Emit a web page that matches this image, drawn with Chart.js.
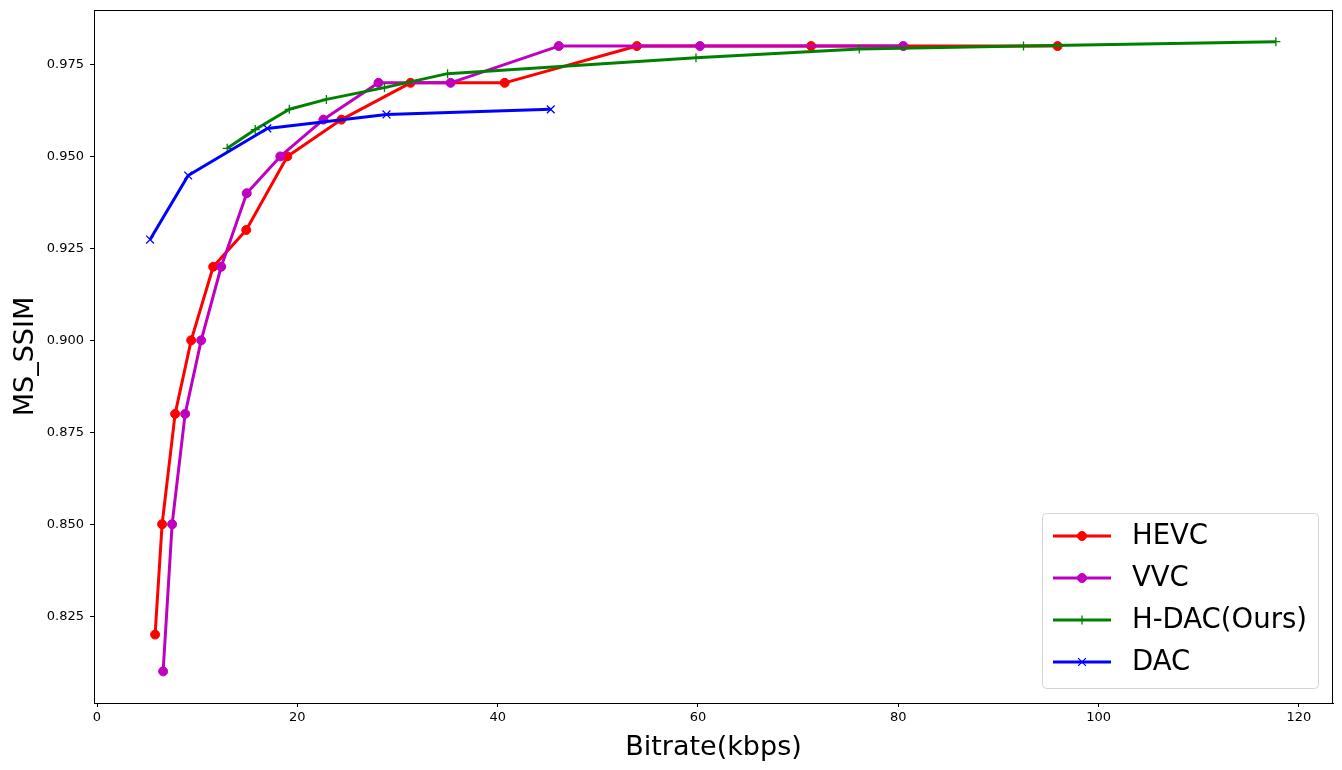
<!DOCTYPE html>
<html>
<head>
<meta charset="utf-8">
<script src="https://cdn.jsdelivr.net/npm/chart.js@4.4.0/dist/chart.umd.min.js"></script>
<style>
html,body{margin:0;padding:0;background:#fff;}
#wrap{width:1342px;height:770px;}
</style>
</head>
<body>
<div id="wrap"><canvas id="c" width="1342" height="770"></canvas></div>
<script>
// ---- data ----
const hevcX = [5.8, 6.5, 7.8, 9.4, 11.6, 14.9, 19.0, 24.4, 31.3, 40.7, 53.9, 71.3, 95.9];
const hevcY = [0.820, 0.850, 0.880, 0.900, 0.920, 0.930, 0.950, 0.960, 0.970, 0.970, 0.980, 0.980, 0.980];
const vvcX = [6.6, 7.5, 8.8, 10.4, 12.4, 14.95, 18.3, 22.6, 28.1, 35.3, 46.1, 60.2, 80.5];
const vvcY = [0.810, 0.850, 0.880, 0.900, 0.920, 0.940, 0.950, 0.960, 0.970, 0.970, 0.980, 0.980, 0.980];
const hdacX = [13.0, 15.8, 19.2, 22.9, 28.7, 35.0, 59.8, 76.1, 92.5, 117.7];
const hdacY = [0.9522, 0.9573, 0.9628, 0.9655, 0.9687, 0.9725, 0.9768, 0.9792, 0.9800, 0.9812];
const dacX = [5.3, 9.1, 17.0, 28.9, 45.3];
const dacY = [0.9274, 0.9448, 0.9576, 0.9614, 0.9628];
const seriesNames = ['HEVC', 'VVC', 'H-DAC(Ours)', 'DAC'];
const xTicks = [0, 20, 40, 60, 80, 100, 120];
const yTicks = [0.825, 0.850, 0.875, 0.900, 0.925, 0.950, 0.975];
const xTitle = 'Bitrate(kbps)';
const yTitle = 'MS_SSIM';

const FONT = "'DejaVu Sans', sans-serif";
const pts = (xs, ys) => xs.map((x, i) => ({x: x, y: ys[i]}));

const styles = [
  {color: '#ff0000', pointStyle: 'circle', radius: 4.5, bw: 1},
  {color: '#bf00bf', pointStyle: 'circle', radius: 4.5, bw: 1},
  {color: '#008000', pointStyle: 'cross', radius: 4.5, bw: 1.3},
  {color: '#0000ff', pointStyle: 'crossRot', radius: 5.5, bw: 1.3}
];
const dataArr = [pts(hevcX, hevcY), pts(vvcX, vvcY), pts(hdacX, hdacY), pts(dacX, dacY)];

const datasets = dataArr.map((d, i) => ({
  label: seriesNames[i],
  data: d,
  borderColor: styles[i].color,
  backgroundColor: styles[i].color,
  pointBackgroundColor: styles[i].color,
  pointBorderColor: styles[i].color,
  pointStyle: styles[i].pointStyle,
  pointRadius: styles[i].radius,
  pointBorderWidth: styles[i].bw,
  pointHoverRadius: styles[i].radius,
  borderWidth: 3,
  tension: 0,
  fill: false,
  showLine: true,
  borderJoinStyle: 'round',
  order: 4 - i
}));

const framePlugin = {
  id: 'frame',
  afterDraw(chart) {
    const ctx = chart.ctx;
    const a = chart.chartArea;
    ctx.save();
    ctx.strokeStyle = '#000';
    ctx.lineWidth = 1;
    ctx.strokeRect(Math.round(a.left) + 0.5, Math.round(a.top) + 0.5,
                   Math.round(a.right - a.left) - 1, Math.round(a.bottom - a.top));
    // axis titles
    ctx.fillStyle = '#000';
    ctx.font = "27px " + FONT;
    ctx.textAlign = 'center';
    ctx.textBaseline = 'alphabetic';
    ctx.fillText(xTitle, (a.left + a.right) / 2, 755);
    ctx.save();
    ctx.translate(33, (a.top + a.bottom) / 2);
    ctx.rotate(-Math.PI / 2);
    ctx.fillText(yTitle, 0, 0);
    ctx.restore();

    // legend
    const bx = 1042.5, by = 513.5, bw = 276, bh = 175, r = 4;
    ctx.beginPath();
    ctx.moveTo(bx + r, by);
    ctx.lineTo(bx + bw - r, by);
    ctx.quadraticCurveTo(bx + bw, by, bx + bw, by + r);
    ctx.lineTo(bx + bw, by + bh - r);
    ctx.quadraticCurveTo(bx + bw, by + bh, bx + bw - r, by + bh);
    ctx.lineTo(bx + r, by + bh);
    ctx.quadraticCurveTo(bx, by + bh, bx, by + bh - r);
    ctx.lineTo(bx, by + r);
    ctx.quadraticCurveTo(bx, by, bx + r, by);
    ctx.closePath();
    ctx.fillStyle = 'rgba(255,255,255,0.8)';
    ctx.fill();
    ctx.strokeStyle = '#d5d5d5';
    ctx.lineWidth = 1;
    ctx.stroke();

    const rows = [536, 578, 620, 662];
    ctx.font = "27.5px " + FONT;
    ctx.textAlign = 'left';
    ctx.textBaseline = 'middle';
    seriesNames.forEach((name, i) => {
      const y = rows[i];
      const s = styles[i];
      ctx.strokeStyle = s.color;
      ctx.lineWidth = 3;
      ctx.beginPath();
      ctx.moveTo(1053, y);
      ctx.lineTo(1111, y);
      ctx.stroke();
      ctx.fillStyle = s.color;
      ctx.lineWidth = s.bw;
      Chart.helpers.drawPoint(ctx, {pointStyle: s.pointStyle, radius: s.radius, borderWidth: s.bw}, 1082, y);
      ctx.fillStyle = '#000';
      ctx.fillText(name, 1132, y + 1);
    });
    ctx.restore();
  }
};

new Chart(document.getElementById('c'), {
  type: 'scatter',
  data: {datasets: datasets},
  options: {
    responsive: false,
    animation: false,
    devicePixelRatio: 1,
    layout: {padding: {top: 10, right: 9, left: 0, bottom: 0}},
    plugins: {legend: {display: false}, tooltip: {enabled: false}},
    scales: {
      x: {
        type: 'linear',
        min: -0.3,
        max: 123.4,
        afterBuildTicks(scale) { scale.ticks = xTicks.map(v => ({value: v})); },
        afterFit(scale) { scale.height = 67; scale.paddingLeft = 0; scale.paddingRight = 0; },
        ticks: {
          color: '#000',
          font: {family: FONT, size: 13},
          padding: 3,
          maxRotation: 0,
          callback: v => String(v)
        },
        grid: {display: true, drawOnChartArea: false, drawTicks: true, tickLength: 4, color: '#000', lineWidth: 1},
        border: {display: true, color: '#000', width: 1}
      },
      y: {
        type: 'linear',
        min: 0.8014,
        max: 0.9898,
        afterBuildTicks(scale) { scale.ticks = yTicks.map(v => ({value: v})); },
        afterFit(scale) { scale.width = 94; scale.paddingTop = 0; scale.paddingBottom = 0; },
        ticks: {
          color: '#000',
          font: {family: FONT, size: 13},
          padding: 6,
          callback: v => v.toFixed(3)
        },
        grid: {display: true, drawOnChartArea: false, drawTicks: true, tickLength: 4, color: '#000', lineWidth: 1},
        border: {display: true, color: '#000', width: 1}
      }
    }
  },
  plugins: [framePlugin]
});
</script>
</body>
</html>
